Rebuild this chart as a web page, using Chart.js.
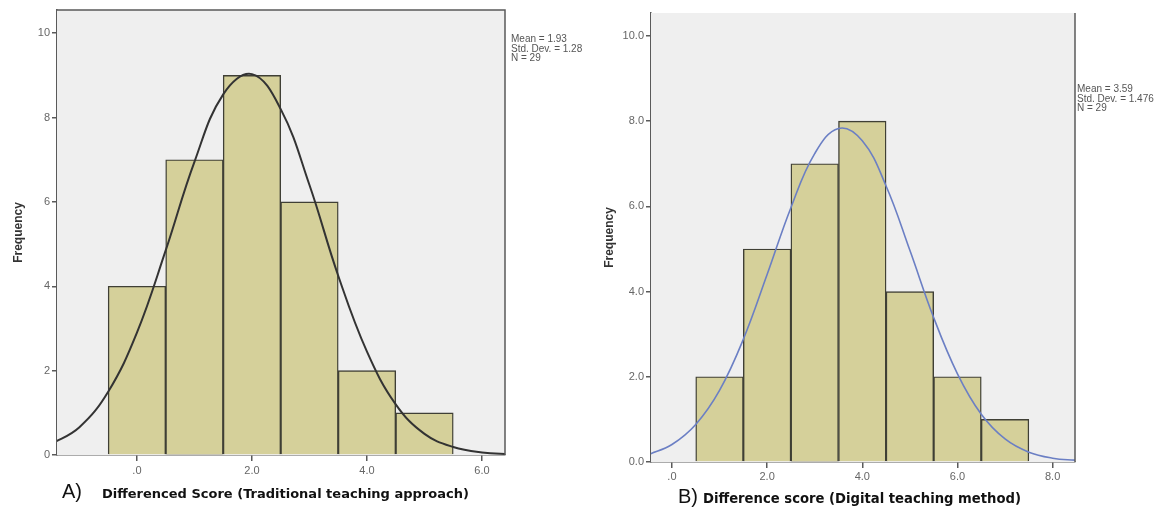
<!DOCTYPE html>
<html>
<head>
<meta charset="utf-8">
<script src="https://cdn.jsdelivr.net/npm/chart.js@4.4.1/dist/chart.umd.min.js"></script>
<style>
  body { margin: 0; background: #fff; width: 1167px; height: 513px; overflow: hidden; position: relative; font-family: "Liberation Sans", Arial, sans-serif; }
  canvas { position: absolute; top: 0; }
  .stats { position: absolute; font-size: 10px; line-height: 9.5px; color: #555; white-space: nowrap; }
  .caption { position: absolute; white-space: nowrap; color: #111; }
  .caption .tag { font-size: 20px; font-weight: normal; }
  .caption .txt { font-weight: bold; font-family: 'DejaVu Sans', sans-serif; }
</style>
</head>
<body>
<canvas id="chartA" width="580" height="513" style="left:0px"></canvas>
<canvas id="chartB" width="577" height="513" style="left:590px"></canvas>

<div class="stats" style="left:511px; top:34px">Mean = 1.93<br>Std. Dev. = 1.28<br>N = 29</div>
<div class="stats" style="left:1077px; top:84px">Mean = 3.59<br>Std. Dev. = 1.476<br>N = 29</div>

<div class="caption" style="left:62px; top:480px"><span class="tag">A)</span><span class="txt" style="font-size:13px; margin-left:20px">Differenced Score (Traditional teaching approach)</span></div>
<div class="caption" style="left:678px; top:485px"><span class="tag">B)</span><span class="txt" style="font-size:13.2px; margin-left:5px">Difference score (Digital teaching method)</span></div>

<script>
// A) traditional teaching approach
const binsA = [0, 1, 2, 3, 4, 5]
const countsA = [4, 7, 9, 6, 2, 1]
// normal curve
const curveXA = [-1.5, -1, -0.5, 0, 0.5, 1, 1.5, 2, 2.5, 3, 3.5, 4, 4.5, 5, 5.5, 6, 6.5]
const curveYA = [0.25, 0.66, 1.5, 2.9, 4.85, 6.95, 8.55, 9.03, 8.2, 6.4, 4.25, 2.45, 1.2, 0.5, 0.19, 0.06, 0.02]
const yTicksA = [0, 2, 4, 6, 8, 10]
const yLabelsA = ['0', '2', '4', '6', '8', '10']
const xTicksA = [0, 2, 4, 6]
const xLabelsA = ['.0', '2.0', '4.0', '6.0']

// B) digital teaching method
const binsB = [1, 2, 3, 4, 5, 6, 7]
const countsB = [2, 5, 7, 8, 4, 2, 1]
const curveXB = [-0.5, 0, 0.5, 1, 1.5, 2, 2.5, 3, 3.5, 4, 4.5, 5, 5.5, 6, 6.5, 7, 7.5, 8, 8.5]
const curveYB = [0.17, 0.41, 0.88, 1.68, 2.88, 4.4, 5.97, 7.24, 7.83, 7.54, 6.48, 4.97, 3.39, 2.07, 1.12, 0.54, 0.23, 0.09, 0.04]
const yTicksB = [0, 2, 4, 6, 8, 10]
const yLabelsB = ['0.0', '2.0', '4.0', '6.0', '8.0', '10.0']
const xTicksB = [0, 2, 4, 6, 8]
const xLabelsB = ['.0', '2.0', '4.0', '6.0', '8.0']

const axisColor = '#5a5a5a'
const tickFont = { family: "'Liberation Sans', Arial, sans-serif", size: 11 }

// grey plot background and the frame lines
const framePlugin = {
    id: 'frame',
    beforeDatasetsDraw(chart, args, opts) {
        const a = chart.chartArea
        const ctx = chart.ctx
        ctx.save()
        ctx.fillStyle = '#efefef'
        ctx.fillRect(a.left, a.top, a.right - a.left, a.bottom - a.top)
        ctx.restore()
    },
    afterDraw(chart, args, opts) {
        const a = chart.chartArea
        const ctx = chart.ctx
        ctx.save()
        ctx.strokeStyle = axisColor
        ctx.lineWidth = 1.5
        ctx.beginPath()
        if (opts.top) {
            ctx.moveTo(a.left, a.top)
            ctx.lineTo(a.right, a.top)
        } else {
            ctx.moveTo(a.right, a.top)
        }
        ctx.lineTo(a.right, a.bottom)
        ctx.stroke()
        ctx.restore()
    }
}

function makeChart(id, cfg) {
    const bars = cfg.bins.map((b, i) => ({ x: b, y: cfg.counts[i] }))
    const curve = cfg.curveX.map((x, i) => ({ x: x, y: cfg.curveY[i] }))
    const ctx = document.getElementById(id).getContext('2d')
    return new Chart(ctx, {
        data: {
            datasets: [{
                type: 'line',
                data: curve,
                borderColor: cfg.curveColor,
                borderWidth: cfg.curveWidth,
                pointRadius: 0,
                tension: 0.4,
                fill: false,
                order: 0
            }, {
                type: 'bar',
                data: bars,
                backgroundColor: '#d5d09a',
                borderColor: '#3f3f35',
                borderWidth: 1.4,
                barPercentage: 1,
                categoryPercentage: 1,
                order: 1
            }]
        },
        options: {
            responsive: false,
            animation: false,
            events: [],
            layout: { padding: cfg.padding },
            plugins: {
                legend: { display: false },
                tooltip: { enabled: false },
                frame: { top: cfg.frameTop }
            },
            scales: {
                x: {
                    type: 'linear',
                    min: cfg.xMin,
                    max: cfg.xMax,
                    offset: false,
                    afterBuildTicks: s => { s.ticks = cfg.xTicks.map(v => ({ value: v })) },
                    afterFit: s => { s.height = cfg.xAxisHeight },
                    ticks: {
                        color: '#666',
                        font: tickFont,
                        padding: cfg.xTickPad,
                        maxRotation: 0,
                        autoSkip: false,
                        callback: (v) => cfg.xLabels[cfg.xTicks.indexOf(v)]
                    },
                    grid: { offset: false, drawOnChartArea: false, drawTicks: true, tickLength: 6, color: axisColor, lineWidth: 1.5 },
                    border: { display: true, color: axisColor, width: 1.5 }
                },
                y: {
                    min: 0,
                    max: cfg.yMax,
                    afterBuildTicks: s => { s.ticks = cfg.yTicks.map(v => ({ value: v })) },
                    afterFit: s => { s.width = cfg.yAxisWidth },
                    ticks: {
                        color: '#666',
                        font: tickFont,
                        padding: 2,
                        callback: (v) => cfg.yLabels[cfg.yTicks.indexOf(v)]
                    },
                    grid: { drawOnChartArea: false, drawTicks: true, tickLength: 5, color: axisColor, lineWidth: 1.5 },
                    border: { display: true, color: axisColor, width: 1.5 },
                    title: {
                        display: true,
                        text: 'Frequency',
                        color: '#333',
                        font: { family: "'Liberation Sans', Arial, sans-serif", size: 12, weight: 'bold' },
                        padding: { top: cfg.titlePad, bottom: 0 }
                    }
                }
            }
        },
        plugins: [framePlugin]
    })
}

window.onload = () => {
    makeChart('chartA', {
        bins: binsA, counts: countsA, curveX: curveXA, curveY: curveYA,
        xTicks: xTicksA, xLabels: xLabelsA, yTicks: yTicksA, yLabels: yLabelsA,
        xMin: -1.39, xMax: 6.4, yMax: 10.55,
        curveColor: '#333333', curveWidth: 2,
        padding: { left: 0, top: 10, right: 75, bottom: 0 },
        yAxisWidth: 57, xAxisHeight: 58, xTickPad: 3, titlePad: 11, frameTop: true
    })
    makeChart('chartB', {
        bins: binsB, counts: countsB, curveX: curveXB, curveY: curveYB,
        xTicks: xTicksB, xLabels: xLabelsB, yTicks: yTicksB, yLabels: yLabelsB,
        xMin: -0.44, xMax: 8.47, yMax: 10.54,
        curveColor: '#6b7fc4', curveWidth: 1.6,
        padding: { left: 0, top: 13, right: 92, bottom: 0 },
        yAxisWidth: 61, xAxisHeight: 51, xTickPad: 2, titlePad: 12, frameTop: false
    })
}
</script>
</body>
</html>
